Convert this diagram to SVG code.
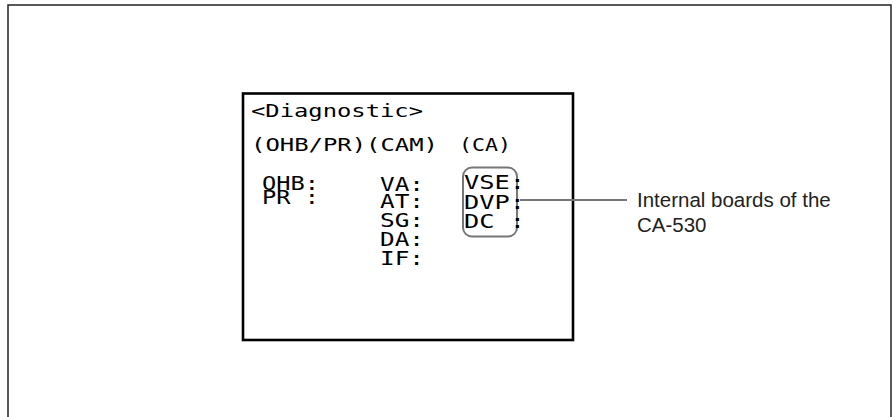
<svg xmlns="http://www.w3.org/2000/svg" width="893" height="417" viewBox="0 0 893 417">
<style>
.lcd{font-family:"DejaVu Sans Mono","Liberation Mono",monospace;fill:#000}
.hd{font-size:18.5px}
.row{font-size:19.5px}
.lbl{font-family:"Liberation Sans",Arial,sans-serif;font-size:20.5px;fill:#222}
</style>
<rect id="frame" x="8" y="5" width="883" height="430" fill="#fff" stroke="#222" stroke-width="1.5"/>
<g id="screen">
<rect x="243" y="93.5" width="330" height="246.5" fill="#fff" stroke="#000" stroke-width="2.6"/>
<text class="lcd hd" x="251" y="117" textLength="172" lengthAdjust="spacingAndGlyphs">&lt;Diagnostic&gt;</text>
<text class="lcd hd" x="251" y="151" textLength="187" lengthAdjust="spacingAndGlyphs">(OHB/PR)(CAM)</text>
<text class="lcd hd" x="459" y="151" textLength="52" lengthAdjust="spacingAndGlyphs">(CA)</text>
<text class="lcd row" x="262" y="190" textLength="57" lengthAdjust="spacingAndGlyphs">OHB:</text>
<text class="lcd row" x="262" y="204" textLength="57" lengthAdjust="spacingAndGlyphs">PR :</text>
<text class="lcd row" x="380" y="190.5" textLength="44" lengthAdjust="spacingAndGlyphs">VA:</text>
<text class="lcd row" x="380" y="208" textLength="44" lengthAdjust="spacingAndGlyphs">AT:</text>
<text class="lcd row" x="380" y="227" textLength="44" lengthAdjust="spacingAndGlyphs">SG:</text>
<text class="lcd row" x="380" y="246" textLength="44" lengthAdjust="spacingAndGlyphs">DA:</text>
<text class="lcd row" x="380" y="265" textLength="44" lengthAdjust="spacingAndGlyphs">IF:</text>
</g>
<g id="ca-boards">
<rect x="463" y="167.5" width="54" height="69" rx="9" fill="none" stroke="#777" stroke-width="2"/>
<text class="lcd row" x="464" y="189" textLength="61" lengthAdjust="spacingAndGlyphs">VSE:</text>
<text class="lcd row" x="464" y="209" textLength="61" lengthAdjust="spacingAndGlyphs">DVP:</text>
<text class="lcd row" x="464" y="227.5" textLength="61" lengthAdjust="spacingAndGlyphs">DC :</text>
</g>
<g id="connectors">
<line x1="520" y1="200" x2="627" y2="200" stroke="#777" stroke-width="2"/>
</g>
<g id="callout">
<text class="lbl" x="637" y="207">Internal boards of the</text>
<text class="lbl" x="637" y="232">CA-530</text>
</g>
</svg>
